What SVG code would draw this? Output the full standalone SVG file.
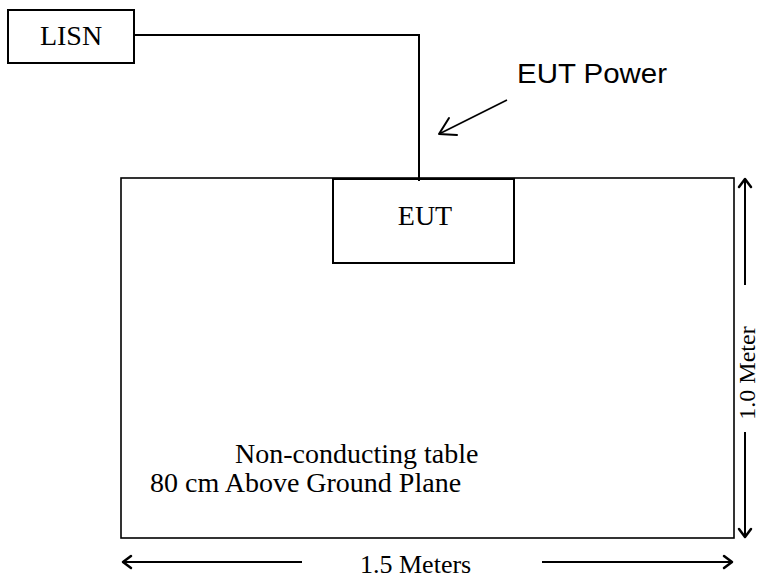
<svg xmlns="http://www.w3.org/2000/svg" width="759" height="580" viewBox="0 0 759 580">
<style>
.box{fill:#fff;stroke:#000;stroke-width:2}
.ln{fill:none;stroke:#000;stroke-width:2}
.hd{fill:none;stroke:#000;stroke-width:2.5;stroke-linecap:round;stroke-linejoin:round}
.tm{font-family:"Liberation Serif","Times New Roman",serif;font-size:28px;fill:#000}
.ar{font-family:"Liberation Sans",Arial,sans-serif;font-size:28px;fill:#000}
</style>
<rect width="759" height="580" fill="#fff"/>
<g id="table">
<rect class="box" x="121" y="178" width="613" height="360" style="stroke-width:1.6"/>
<text class="tm" x="235" y="463">Non-conducting table</text>
<text class="tm" x="150" y="492">80 cm Above Ground Plane</text>
</g>
<g id="lisn">
<rect class="box" x="8" y="10" width="126" height="53"/>
<text class="tm" x="71" y="45" text-anchor="middle">LISN</text>
</g>
<g id="eut">
<rect class="box" x="333" y="179" width="181" height="84"/>
<text class="tm" x="425" y="225" text-anchor="middle">EUT</text>
</g>
<g id="connectors">
<polyline class="ln" points="134,35 419,35 419,181"/>
<line class="ln" x1="507" y1="100" x2="439" y2="134" style="stroke-width:1.6"/>
<polyline class="hd" points="449,118 439,134 457,135" style="stroke-width:2"/>
<line class="ln" x1="123" y1="562" x2="302" y2="562"/>
<polyline class="hd" points="131,556 123,562 131,568"/>
<line class="ln" x1="542" y1="562" x2="732" y2="562"/>
<polyline class="hd" points="724,556 732,562 724,568"/>
<line class="ln" x1="745" y1="179" x2="745" y2="285"/>
<polyline class="hd" points="739,187 745,179 751,187"/>
<line class="ln" x1="745" y1="432" x2="745" y2="537"/>
<polyline class="hd" points="739,529 745,537 751,529"/>
</g>
<g id="labels">
<text class="ar" x="517" y="83" textLength="150" lengthAdjust="spacingAndGlyphs">EUT Power</text>
<text class="tm" x="360" y="573" style="font-size:26px">1.5 Meters</text>
<text class="tm" transform="translate(755,373) rotate(-90)" text-anchor="middle" style="font-size:24px">1.0 Meter</text>
</g>
</svg>
